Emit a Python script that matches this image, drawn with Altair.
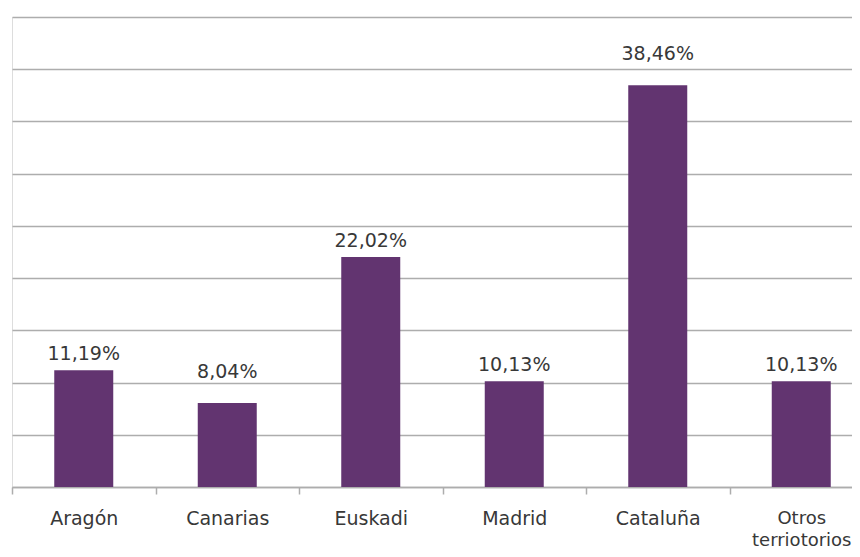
import altair as alt
import pandas as pd

regions = ["Aragón", "Canarias", "Euskadi", "Madrid", "Cataluña", "Otros terriotorios"]
shares = [11.19, 8.04, 22.02, 10.13, 38.46, 10.13]
y_ticks = [0, 5, 10, 15, 20, 25, 30, 35, 40, 45]
raised = ["Canarias", "Cataluña"]

df = pd.DataFrame({"region": regions, "share": shares})

FONT = "DejaVu Sans"
GRID = "#adadad"
TEXT = "#383838"

x = alt.X(
    "region:N",
    sort=regions,
    title=None,
    scale=alt.Scale(range=[0, 861], paddingInner=0, paddingOuter=0),
    axis=alt.Axis(
        tickBand="extent",
        grid=False,
        domain=True,
        domainColor=GRID,
        domainWidth=1.5,
        ticks=True,
        tickColor=GRID,
        tickWidth=1.5,
        tickSize=7,
        labelAngle=0,
        labelFont=FONT,
        labelFontSize={
            "condition": {"test": "datum.value == 'Otros terriotorios'", "value": 18},
            "value": 19,
        },
        labelColor=TEXT,
        labelPadding=24,
        labelBaseline="middle",
        labelLineHeight=22,
        labelExpr="datum.label == 'Otros terriotorios' ? ['Otros', 'terriotorios'] : datum.label",
    ),
)

y = alt.Y(
    "share:Q",
    title=None,
    scale=alt.Scale(domain=[0, 45], nice=False, zero=True),
    axis=alt.Axis(
        values=y_ticks,
        labels=False,
        ticks=False,
        domain=False,
        grid=True,
        gridColor=GRID,
        gridWidth=1.5,
    ),
)

bars = alt.Chart(df).mark_bar(color="#623470", size=59).encode(x=x, y=y)

base_text = alt.Chart(df).transform_calculate(
    lbl="replace(format(datum.share, '.2f'), '.', ',') + '%'"
)

labels_low = base_text.transform_filter(
    ~alt.FieldOneOfPredicate(field="region", oneOf=raised)
).mark_text(
    font=FONT, fontSize=19, color=TEXT, baseline="alphabetic", dy=-10
).encode(x=x, y=y, text="lbl:N")

labels_high = base_text.transform_filter(
    alt.FieldOneOfPredicate(field="region", oneOf=raised)
).mark_text(
    font=FONT, fontSize=19, color=TEXT, baseline="alphabetic", dy=-25
).encode(x=x, y=y, text="lbl:N")

chart = (bars + labels_low + labels_high).properties(
    width=840,
    height=470,
    autosize=alt.AutoSizeParams(type="none"),
    padding={"left": 4, "top": 9, "right": 0, "bottom": 62},
).configure_view(stroke=None).configure(background="white")

chart.save("out.html", embed_options={"renderer": "svg", "actions": False})
